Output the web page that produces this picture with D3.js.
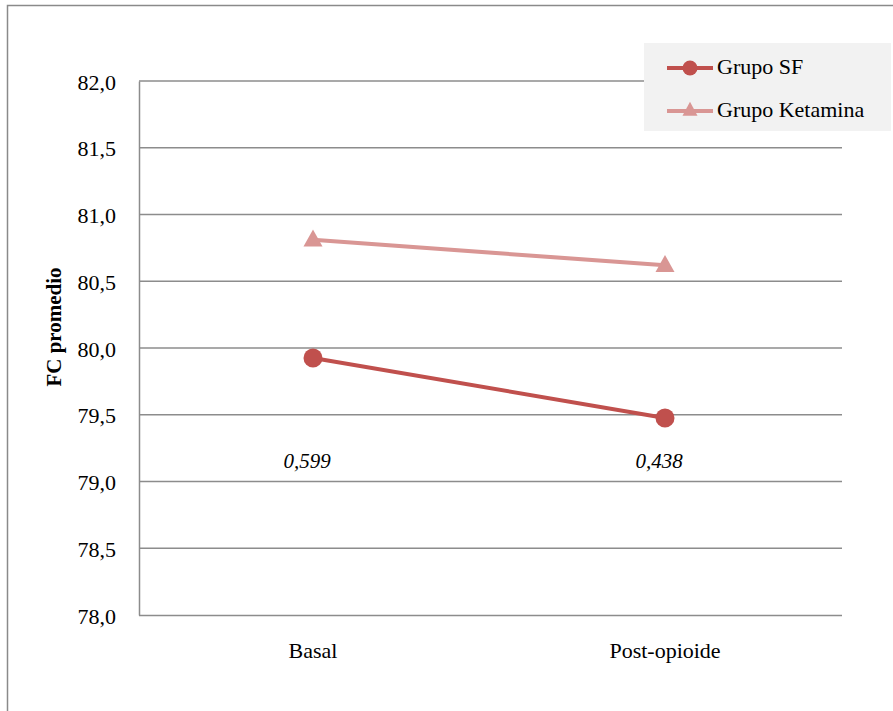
<!DOCTYPE html>
<html><head><meta charset="utf-8">
<script src="https://cdn.jsdelivr.net/npm/d3@7"></script>
</head><body style="margin:0">
<script>
const categories = ["Basal", "Post-opioide"];
const seriesNames = ["Grupo SF", "Grupo Ketamina"];
const sfValues = [79.925, 79.476];
const ketValues = [80.81, 80.62];
const pValues = ["0,599", "0,438"];
const pLevel = 79.15;
const yTicks = [78.0, 78.5, 79.0, 79.5, 80.0, 80.5, 81.0, 81.5, 82.0];

const FONT = "Tinos, 'Liberation Serif', 'Times New Roman', serif";
const W = 893, H = 711;
const svg = d3.select("body").append("svg").attr("width", W).attr("height", H).style("display", "block");

// outer frame
svg.append("path").attr("d", "M7.5,711 L7.5,5.5 L893,5.5").attr("fill","none").attr("stroke","#8a8a8a").attr("stroke-width",1.5);

const x = d3.scaleBand().domain(categories).range([137, 841]);
const y = d3.scaleLinear().domain([78, 82]).range([615, 81]);

// gridlines
svg.append("g").selectAll("line").data(yTicks.filter(d => d > 78)).join("line")
  .attr("x1", 139).attr("x2", 842).attr("y1", d => y(d)).attr("y2", d => y(d))
  .attr("stroke", "#8c8c8c").attr("stroke-width", 1.5);

// axes
const yAxis = svg.append("g").attr("transform", "translate(139,0)")
  .call(d3.axisLeft(y).tickValues(yTicks).tickSize(0).tickPadding(23).tickFormat(d => d3.format(".1f")(d).replace(".", ",")));
yAxis.attr("font-family", null).attr("font-size", null);
yAxis.select(".domain").attr("stroke", "#8c8c8c").attr("stroke-width", 1.5);
yAxis.selectAll("text").style("font-family", FONT).style("font-size", "22px").attr("fill", "#000").attr("dy", null).attr("y", 8);

const xAxis = svg.append("g").attr("transform", "translate(0,615)")
  .call(d3.axisBottom(x).tickSize(0));
xAxis.attr("font-family", null).attr("font-size", null);
xAxis.select(".domain").attr("stroke", "#8c8c8c").attr("stroke-width", 1.5).attr("d", "M139,0.5H842");
xAxis.selectAll("text").style("font-family", FONT).style("font-size", "22px").attr("fill", "#000").attr("dy", null).attr("y", 43);

// y title
svg.append("text").attr("transform", "translate(61,327) rotate(-90)").attr("text-anchor", "middle")
  .style("font-family", FONT).style("font-size", "21px").style("font-weight", "bold").text("FC promedio");

const cx = d => x(d) + x.bandwidth() / 2;
const line = d3.line().x((d, i) => cx(categories[i])).y(d => y(d));

const colSF = "#c0504d", colK = "#d99694";

svg.append("path").datum(ketValues).attr("d", line).attr("fill", "none").attr("stroke", colK).attr("stroke-width", 4);
svg.append("path").datum(sfValues).attr("d", line).attr("fill", "none").attr("stroke", colSF).attr("stroke-width", 4);

const triPath = (w, h) => `M0,${-h * 2 / 3}L${w / 2},${h / 3}L${-w / 2},${h / 3}Z`;
svg.append("g").selectAll("path").data(ketValues).join("path")
  .attr("d", triPath(19, 17)).attr("transform", (d, i) => `translate(${cx(categories[i])},${y(d) + 1})`).attr("fill", colK);
svg.append("g").selectAll("circle").data(sfValues).join("circle")
  .attr("cx", (d, i) => cx(categories[i])).attr("cy", d => y(d)).attr("r", 9.5).attr("fill", colSF);

// p annotations
svg.append("g").selectAll("text").data(pValues).join("text")
  .attr("x", (d, i) => cx(categories[i]) - 6).attr("y", y(pLevel) + 7).attr("text-anchor", "middle")
  .style("font-family", FONT).style("font-size", "21px").style("font-style", "italic").attr("fill", "#000").text(d => d);

// legend
const lg = svg.append("g");
lg.append("rect").attr("x", 644).attr("y", 43).attr("width", 247).attr("height", 88).attr("fill", "#f2f2f2");
const legItems = [{name: seriesNames[0], col: colSF, sym: "circle", yy: 68, by: 74}, {name: seriesNames[1], col: colK, sym: "tri", yy: 111, by: 117}];
legItems.forEach(it => {
  lg.append("line").attr("x1", 667).attr("x2", 713).attr("y1", it.yy).attr("y2", it.yy).attr("stroke", it.col).attr("stroke-width", 4);
  if (it.sym === "circle") lg.append("circle").attr("cx", 690).attr("cy", it.yy).attr("r", 7.5).attr("fill", it.col);
  else lg.append("path").attr("d", triPath(15, 14)).attr("transform", `translate(690,${it.yy})`).attr("fill", it.col);
  lg.append("text").attr("x", 717).attr("y", it.by).style("font-family", FONT).style("font-size", "22px")
    .attr("fill", "#000").text(it.name);
});
</script>
</body></html>
